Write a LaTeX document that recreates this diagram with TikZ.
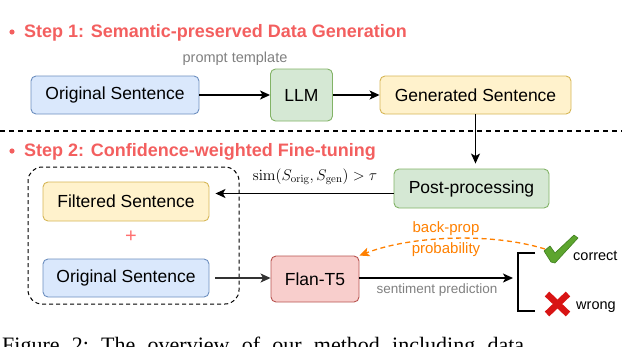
\RequirePackage{fix-cm}
\documentclass[tikz,border=0pt]{standalone}
\usepackage[no-math]{fontspec}
\setmainfont{Liberation Sans}
\newfontfamily\capfont{Liberation Serif}
\usetikzlibrary{arrows.meta}
\definecolor{stepred}{HTML}{F35F5F}
\definecolor{bfill}{HTML}{DAE8FC}
\definecolor{bdraw}{HTML}{6C8EBF}
\definecolor{gfill}{HTML}{D5E8D4}
\definecolor{gdraw}{HTML}{82B366}
\definecolor{yfill}{HTML}{FFF2CC}
\definecolor{ydraw}{HTML}{D6B656}
\definecolor{rfill}{HTML}{F8CECC}
\definecolor{rdraw}{HTML}{B85450}
\definecolor{plusred}{HTML}{FF6F6F}
\definecolor{orng}{HTML}{FF8000}
\definecolor{txtgray}{HTML}{808080}
\definecolor{chkgreen}{HTML}{5DA52E}
\definecolor{chkdark}{HTML}{3F7F1F}
\definecolor{xred}{HTML}{D81414}
\begin{document}
\begin{tikzpicture}[x=1pt,y=-1pt,
  box/.style={draw, rounded corners=5pt, line width=0.9pt, align=center, inner sep=0pt,
    font=\fontsize{17.5}{20}\selectfont},
  bluebox/.style={box, fill=bfill, draw=bdraw},
  greenbox/.style={box, fill=gfill, draw=gdraw},
  yellowbox/.style={box, fill=yfill, draw=ydraw},
  redbox/.style={box, fill=rfill, draw=rdraw},
  arr/.style={-{Stealth[length=10pt,width=9pt,inset=2.5pt]}, line width=1.3pt},
  steptitle/.style={anchor=base west, inner sep=0pt, text=stepred, font=\fontsize{18}{20}\selectfont\bfseries},
  graylbl/.style={anchor=base, inner sep=0pt, text=txtgray},
  orangelbl/.style={anchor=base, inner sep=0pt, text=orng, font=\fontsize{15}{17}\selectfont},
  reslbl/.style={anchor=base west, inner sep=0pt, font=\fontsize{14.5}{16}\selectfont},
]
\useasboundingbox (0,0) rectangle (640,346);

% titles
\fill[stepred] (12,32) circle (2.6pt);
\node[steptitle] (t1) at (24,37.5) {Step 1: Semantic-preserved Data Generation};
\fill[stepred] (12,151) circle (2.6pt);
\node[steptitle] (t2) at (24,156) {Step 2: Confidence-weighted Fine-tuning};

% separator
\draw[line width=1.4pt, dash pattern=on 5pt off 4pt] (0,131) -- (622,131);

% step 1
\node[graylbl, font=\fontsize{14.5}{16}\selectfont] (pt) at (235,62.5) {prompt template};
\node[bluebox, minimum width=168pt, minimum height=38pt] (orig1) at (115,95) {Original Sentence};
\node[greenbox, minimum width=62pt, minimum height=52pt] (llm) at (301.5,95) {LLM};
\node[yellowbox, minimum width=191pt, minimum height=38pt] (gen) at (475.5,95) {Generated Sentence};
\draw[arr] (orig1.east) -- (llm.west);
\draw[arr] (llm.east) -- (gen.west);

% step 2
\node[greenbox, minimum width=155pt, minimum height=39pt] (post) at (471.5,188.5) {Post-processing};
\draw[arr, shorten >=5pt] (gen.south) -- (gen.south |- post.north);

\node[draw, line width=1pt, dash pattern=on 4pt off 3pt, rounded corners=14pt,
  minimum width=211pt, minimum height=137pt, inner sep=0pt] (grp) at (133.5,235.5) {};
\node[yellowbox, minimum width=166pt, minimum height=39pt] (filt) at (126,201.5) {Filtered Sentence};
\node[text=plusred, inner sep=0pt, font=\fontsize{20}{20}\selectfont] (plus) at (131,237) {+};
\node[bluebox, minimum width=166pt, minimum height=38pt] (orig2) at (126,278) {Original Sentence};
\node[redbox, minimum width=88pt, minimum height=46pt] (flan) at (315,279) {Flan-T5};

\draw[arr, shorten >=6pt] ([yshift=-5pt]post.west) -- ([yshift=-5pt]post.west -| filt.east);
\node[anchor=base, inner sep=0pt, font=\fontsize{15.5}{18}\selectfont] (sim) at (315,180)
  {$\mathrm{sim}(S_{\mathrm{orig}}, S_{\mathrm{gen}}) > \tau$};

\draw[arr, draw=black!80, shorten <=6pt] (orig2.east) -- (orig2.east -| flan.west);

% prediction
\coordinate (brk) at (513,278);
\coordinate (bt) at (535,253);
\coordinate (bb) at (535,311);
\draw[arr] (flan.east |- brk) -- (brk);
\node[graylbl, font=\fontsize{13.5}{15}\selectfont] (sp) at (437,293) {sentiment prediction};
\draw[line width=1.3pt] (bt) -- ++(-17,0) |- (bb);

% check mark
\coordinate (chk) at (545,249);
\filldraw[fill=chkgreen, draw=chkdark, line width=0.6pt, line join=round]
  (544,251) -- (550,246) -- (555,253) -- (574,235) -- (578,238) -- (555,263) -- (551,262) -- cycle;
\node[reslbl] (cor) at (573,260) {correct};

% cross
\draw[xred, line width=6.5pt] (547,294) -- (568,314);
\draw[xred, line width=6.5pt] (568,294) -- (547,314);
\node[reslbl] (wr) at (576,309.5) {wrong};

% back-prop
\draw[orng, line width=1.3pt, dash pattern=on 5pt off 3.5pt, -{Stealth[length=10pt,width=9pt,inset=2.5pt]}]
  (chk) .. controls (490,232) and (410,236) .. (flan.north east);
\node[orangelbl] (bp) at (446,232.5) {back-prop};
\node[orangelbl] (prob) at (446,253.5) {probability};

% caption (cut off)
\begin{scope}
\clip (0,0) rectangle (640,346);
\node[anchor=base west, inner sep=0pt, font=\capfont\fontsize{22}{24}\selectfont] (cap) at (2,352)
  {\frenchspacing\makebox[522pt][s]{Figure 2: The overview of our method including data}};
\end{scope}
\end{tikzpicture}
\end{document}
